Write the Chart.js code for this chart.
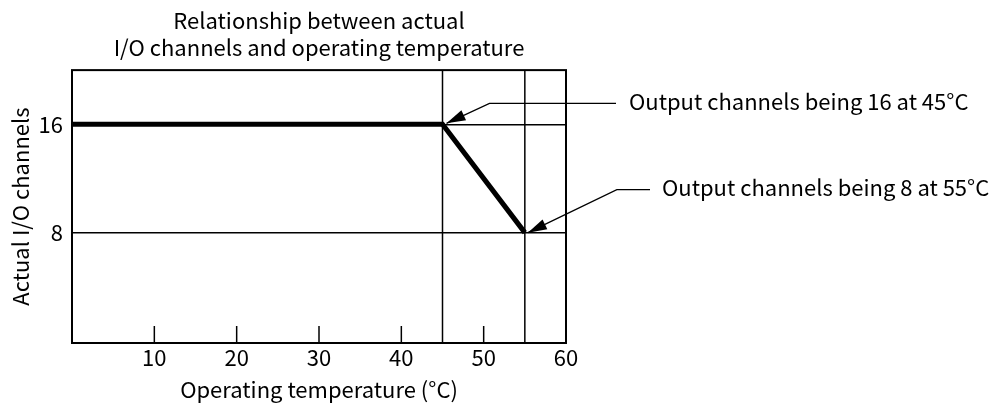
<!DOCTYPE html>
<html>
<head>
<meta charset="utf-8">
<title>I/O channels vs operating temperature</title>
<script src="https://cdn.jsdelivr.net/npm/chart.js@4"></script>
<style>
    body { margin: 0; background: #fff; }
</style>
</head>
<body>
<canvas id="derateChart" width="1001" height="409"></canvas>
<script>
// chart data
const titleLines = ['Relationship between actual', 'I/O channels and operating temperature'];
const xTitle = 'Operating temperature (\u00B0C)';
const yTitle = 'Actual I/O channels';
const temperatures = [0, 45, 55];
const channels = [16, 16, 8];
const xTicks = [10, 20, 30, 40, 50, 60];
const yTicks = [8, 16];
const refTemps = [45, 55];
const calloutLabels = ['Output channels being 16 at 45\u00B0C', 'Output channels being 8 at 55\u00B0C'];
const calloutPoints = [1, 2]; // index into temperatures / channels

const FONT = '"Noto Sans CJK SC", "Noto Sans", sans-serif';
const FONT_SIZE = 22;

// frame, reference lines and inner tick marks
const framePlugin = {
    id: 'frame',
    beforeDatasetsDraw(chart) {
        const { ctx, chartArea: a, scales } = chart;
        ctx.save();
        ctx.strokeStyle = '#000';

        ctx.lineWidth = 1.5;
        refTemps.forEach(function(t) {
            const x = scales.x.getPixelForValue(t);
            ctx.beginPath();
            ctx.moveTo(x, a.top);
            ctx.lineTo(x, a.bottom);
            ctx.stroke();
        });

        xTicks.forEach(function(t) {
            const x = scales.x.getPixelForValue(t);
            ctx.beginPath();
            ctx.moveTo(x, a.bottom);
            ctx.lineTo(x, a.bottom - 17);
            ctx.stroke();
        });

        ctx.lineWidth = 2;
        ctx.strokeRect(a.left, a.top, a.right - a.left, a.bottom - a.top);
        ctx.restore();
    }
};

// leader lines with arrows pointing at the break points
const calloutPlugin = {
    id: 'callouts',
    afterDatasetsDraw(chart, args, opts) {
        const { ctx, scales } = chart;
        ctx.save();
        ctx.strokeStyle = '#000';
        ctx.fillStyle = '#000';
        ctx.lineWidth = 1.3;
        ctx.font = FONT_SIZE + 'px ' + FONT;
        ctx.textBaseline = 'middle';

        calloutLabels.forEach(function(label, i) {
            const g = opts.geometry[i];
            const k = calloutPoints[i];
            const px = scales.x.getPixelForValue(temperatures[k]);
            const py = scales.y.getPixelForValue(channels[k]);
            const tipX = px + g.tipDx, tipY = py + g.tipDy;
            const kx = px + g.kinkDx, ky = py + g.kinkDy;

            ctx.beginPath();
            ctx.moveTo(g.lineEnd, ky);
            ctx.lineTo(kx, ky);
            ctx.lineTo(tipX, tipY);
            ctx.stroke();

            // arrow head
            const ang = Math.atan2(tipY - ky, tipX - kx);
            const len = 19, half = 5.5;
            const bx = tipX - len * Math.cos(ang), by = tipY - len * Math.sin(ang);
            ctx.beginPath();
            ctx.moveTo(tipX, tipY);
            ctx.lineTo(bx + half * Math.sin(ang), by - half * Math.cos(ang));
            ctx.lineTo(bx - half * Math.sin(ang), by + half * Math.cos(ang));
            ctx.closePath();
            ctx.fill();

            ctx.fillText(label, g.textX, ky - 2);
        });
        ctx.restore();
    }
};

const ctx = document.getElementById('derateChart').getContext('2d');
new Chart(ctx, {
    type: 'line',
    data: {
        datasets: [
            {
                label: 'Actual I/O channels',
                data: temperatures.map(function(t, i) { return { x: t, y: channels[i] }; }),
                borderColor: '#000',
                borderWidth: 5,
                pointRadius: 0,
                tension: 0,
                fill: false
            }
        ]
    },
    options: {
        responsive: false,
        animation: false,
        layout: {
            padding: { left: 7, right: 435, top: 0, bottom: 0 }
        },
        plugins: {
            legend: { display: false },
            tooltip: { enabled: false },
            title: {
                display: true,
                fullSize: false,
                text: titleLines,
                color: '#000',
                font: { family: FONT, size: FONT_SIZE, weight: 'normal', lineHeight: 1.23 },
                padding: { top: 7, bottom: 9 }
            },
            callouts: {
                geometry: [
                    { tipDx: 4, tipDy: -1, kinkDx: 47, kinkDy: -21, lineEnd: 616, textX: 629 },
                    { tipDx: 3, tipDy: 0, kinkDx: 92, kinkDy: -43, lineEnd: 650, textX: 662 }
                ]
            }
        },
        scales: {
            x: {
                type: 'linear',
                min: 0,
                max: 60,
                afterBuildTicks: function(scale) {
                    scale.ticks = xTicks.map(function(v) { return { value: v }; });
                },
                afterFit: function(scale) { scale.height = 66; },
                grid: { display: false, drawTicks: false },
                border: { display: false },
                ticks: {
                    color: '#000',
                    padding: 1,
                    maxRotation: 0,
                    font: { family: FONT, size: FONT_SIZE }
                },
                title: {
                    display: true,
                    text: xTitle,
                    color: '#000',
                    font: { family: FONT, size: FONT_SIZE, lineHeight: 1.2 },
                    padding: { top: 4, bottom: 6 }
                }
            },
            y: {
                type: 'linear',
                min: -0.15,
                max: 20,
                afterBuildTicks: function(scale) {
                    scale.ticks = yTicks.map(function(v) { return { value: v }; });
                },
                afterFit: function(scale) { scale.width = 65; },
                grid: { color: '#000', lineWidth: 1.5, drawTicks: false },
                border: { display: false },
                ticks: {
                    color: '#000',
                    padding: 9,
                    font: { family: FONT, size: FONT_SIZE }
                },
                title: {
                    display: true,
                    text: yTitle,
                    color: '#000',
                    font: { family: FONT, size: FONT_SIZE, lineHeight: 1.2 },
                    padding: { top: 0, bottom: 0 }
                }
            }
        }
    },
    plugins: [framePlugin, calloutPlugin]
});
</script>
</body>
</html>
